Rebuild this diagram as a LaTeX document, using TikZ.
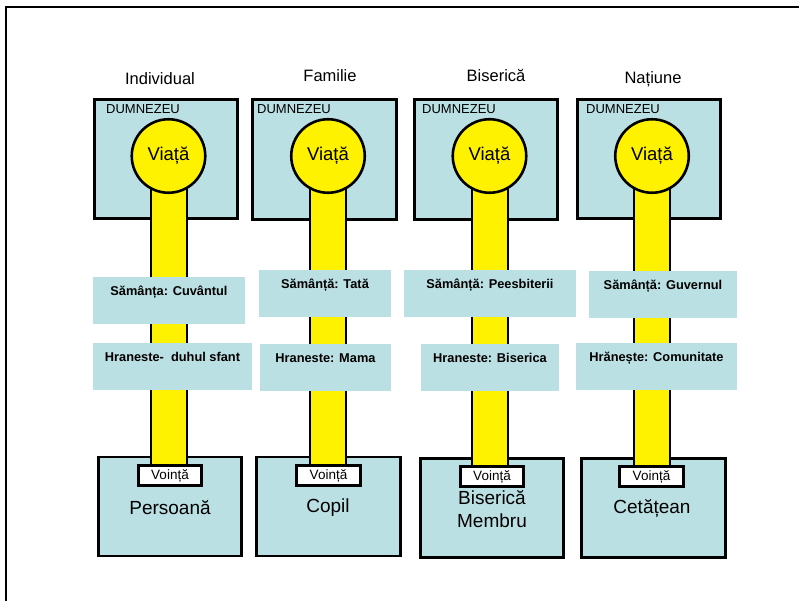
\documentclass[tikz,border=0pt]{standalone}
\usepackage{fontspec}
\setmainfont{Liberation Sans}
\usetikzlibrary{positioning,calc}
\definecolor{paleblue}{RGB}{187,224,227}
\pgfdeclarelayer{back}
\pgfdeclarelayer{mid}
\pgfsetlayers{back,mid,main}

\begin{document}
\begin{tikzpicture}[x=1pt,y=-1pt]
        \tikzstyle{heading}=[font=\fontsize{16.5}{19}\selectfont]
        \tikzstyle{godbox}=[draw, fill=paleblue, line width=2.6pt, inner sep=0pt, minimum width=143.5pt, minimum height=119.5pt]
        \tikzstyle{godtag}=[anchor=west, inner sep=0pt, font=\fontsize{13}{15}\selectfont]
        \tikzstyle{life}=[circle, draw, fill=yellow, line width=2.6pt, inner sep=0pt, minimum size=73.5pt, font=\fontsize{18.5}{21}\selectfont]
        \tikzstyle{pipe}=[draw=black, line width=2pt, double=yellow, double distance=34pt]
        \tikzstyle{seedbox}=[fill=paleblue, anchor=north, inner xsep=0pt, inner ysep=4pt, text height=14pt, text depth=25pt, font=\bfseries\fontsize{12.8}{15}\selectfont]
        \tikzstyle{basebox}=[draw, fill=paleblue, line width=2.6pt, inner sep=0pt, minimum width=143.5pt, minimum height=99pt]
        \tikzstyle{willbox}=[draw, fill=white, line width=2.6pt, inner sep=0pt, minimum width=63.5pt, minimum height=20.5pt, font=\fontsize{13.5}{15}\selectfont]
        \tikzstyle{whotxt}=[align=center, font=\fontsize{19}{23}\selectfont]

        \useasboundingbox (0,0) rectangle (799,601);
        \draw[line width=1.8pt] (6,601) -- (6,7) -- (799,7);

        % boxes under the pipes
        \begin{pgfonlayer}{back}
        \node[godbox] (god1) at (166,159) {};
        \node[godbox] (god2) at (324.5,159.5) {};
        \node[godbox] (god3) at (486,159.5) {};
        \node[godbox] (god4) at (649,159) {};

        \node[basebox] (base1) at (170,506.5) {};
        \node[basebox] (base2) at (328.5,506.5) {};
        \node[basebox] (base3) at (492,508) {};
        \node[basebox] (base4) at (653.5,508) {};
        \end{pgfonlayer}

        \node[heading] (head1) at (160,79) {Individual};
        \node[heading] (head2) at (330,76) {Familie};
        \node[heading] (head3) at (496,76) {Biserică};
        \node[heading] (head4) at (653,79) {Națiune};

        \node[godtag] (tag1) at (106,109.5) {DUMNEZEU};
        \node[godtag] (tag2) at (257,109.5) {DUMNEZEU};
        \node[godtag] (tag3) at (422,109.5) {DUMNEZEU};
        \node[godtag] (tag4) at (586,109.5) {DUMNEZEU};

        \node[life] (life1) at (168.5,156) {Viață};
        \node[life] (life2) at (328,156) {Viață};
        \node[life] (life3) at (489.5,156) {Viață};
        \node[life] (life4) at (652,156) {Viață};

        \node[willbox] (will1) at (170,475.5) {Voință};
        \node[willbox] (will2) at (328.5,475.5) {Voință};
        \node[willbox] (will3) at (492,476.5) {Voință};
        \node[willbox] (will4) at (651.5,476.5) {Voință};

        \begin{pgfonlayer}{mid}
        \draw[pipe] (life1.center) -- (life1.center |- will1.north);
        \draw[pipe] (life2.center) -- (life2.center |- will2.north);
        \draw[pipe] (life3.center) -- (life3.center |- will3.north);
        \draw[pipe] (life4.center) -- (life4.center |- will4.north);
        \end{pgfonlayer}

        \node[seedbox, minimum width=152pt] (seed1) at (169,277) {Sămânța: Cuvântul};
        \node[seedbox, minimum width=132pt] (seed2) at (325,270) {Sămânță: Tată};
        \node[seedbox, minimum width=172pt] (seed3) at (490,270) {Sămânță: Peesbiterii};
        \node[seedbox, minimum width=148pt] (seed4) at (663,271) {Sămânță: Guvernul};

        \node[seedbox, minimum width=159pt] (feed1) at (172.5,343) {Hraneste-\ \ duhul sfant};
        \node[seedbox, minimum width=131pt] (feed2) at (325.5,344) {Hraneste: Mama};
        \node[seedbox, minimum width=138pt] (feed3) at (490,344) {Hraneste: Biserica};
        \node[seedbox, minimum width=161pt] (feed4) at (656.5,343) {Hrănește: Comunitate};

        \node[whotxt] (who1) at (170,508) {Persoană};
        \node[whotxt] (who2) at (328,508) {Copil};
        \node[whotxt] (who3) at (492,509.5) {Biserică\\Membru};
        \node[whotxt] (who4) at (652,509) {Cetățean};

    \end{tikzpicture}
\end{document}
